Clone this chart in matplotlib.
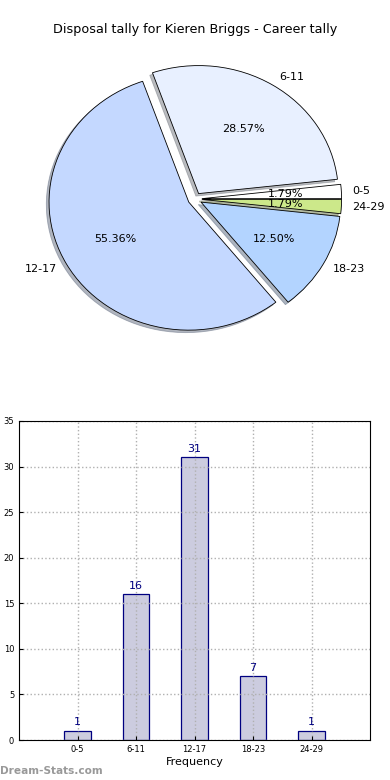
import numpy as np
import matplotlib.pyplot as plt

# datos
categorias = ['0-5', '6-11', '12-17', '18-23', '24-29']
tally = [1, 16, 31, 7, 1]
colores = ['#ffffff', '#e8f0ff', '#c4d8ff', '#b3d4ff', '#cce88a']
titulo = 'Disposal tally for Kieren Briggs - Career tally'

fig = plt.figure(figsize=(3.9, 7.8), dpi=100)

# =============================================================================
#                              PIE
# =============================================================================
ax1 = fig.add_axes([0.0447, 0.5397, 0.910, 0.4103])
wedges, texts, autotexts = ax1.pie(tally, labels=categorias, colors=colores,
                                   explode=[0.05] * 5,
                                   shadow={'ox': -0.014, 'oy': -0.014, 'shade': 0.5},
                                   autopct='%1.2f%%', startangle=0,
                                   labeldistance=1.08,
                                   wedgeprops={'edgecolor': 'black', 'linewidth': 0.6},
                                   textprops={'fontsize': 8})
ax1.set_aspect('auto')
ax1.set_xlim(-1.27, 1.27)
ax1.set_ylim(-1.25, 1.25)
fig.text(0.5, 1 - 30 / 780, titulo, ha='center', va='center', fontsize=9.2)

# =============================================================================
#                              BARRAS
# =============================================================================
ax2 = fig.add_axes([19 / 390, 1 - 740 / 780, 351 / 390, 319 / 780])
x = np.arange(len(categorias))
ax2.bar(x, tally, width=0.45, color='#ccccdf', edgecolor='#000080', linewidth=0.9)
for xi, v in zip(x, tally):
    ax2.text(xi, v + 0.4, str(v), ha='center', va='bottom', color='#000080', fontsize=8)

ax2.set_xlim(-1, 5)
ax2.set_ylim(0, 35)
ax2.set_xticks(x)
ax2.set_xticklabels(categorias)
ax2.set_yticks(np.arange(0, 36, 5))
ax2.tick_params(labelsize=6, direction='in', length=3)
ax2.grid(True, linestyle=':', color='#b0b0b0', linewidth=1)
ax2.set_axisbelow(False)
for s in ax2.spines.values():
    s.set_zorder(4)
ax2.set_xlabel('Frequency', fontsize=8, labelpad=2)
ax2.set_ylabel('Disposal Tally', fontsize=8)
ax2.yaxis.set_label_coords(-0.055, 0.5)

fig.text(0.0, 0.0115, 'Dream-Stats.com', color='#999999', fontsize=7.6,
         fontweight='bold', ha='left', va='center')

fig.savefig('out.png', dpi=100)
